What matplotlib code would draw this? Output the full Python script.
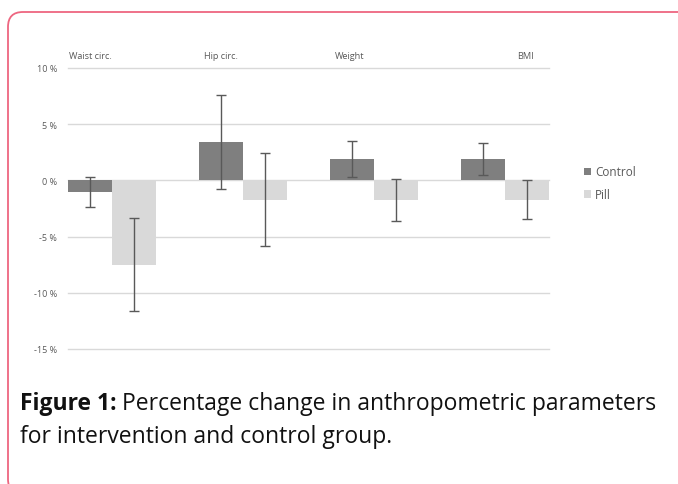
from matplotlib import pyplot as plt
from matplotlib.patches import FancyBboxPatch
import numpy as np

categories = ['Waist circ.', 'Hip circ.', 'Weight', 'BMI']
control = [-1.0, 3.4, 1.9, 1.9]
control_err = [1.33, 4.2, 1.6, 1.45]
pill = [-7.5, -1.7, -1.75, -1.7]
pill_err = [4.15, 4.1, 1.9, 1.75]
yticks = [10, 5, 0, -5, -10, -15]
ytick_labels = ['10 %', '5 %', '0 %', '-5 %', '-10 %', '-15 %']

W, H = 678, 485
fig = plt.figure(figsize=(W / 100, H / 100), dpi=100)
fig.patch.set_facecolor('white')

# pink rounded frame (only the top/left part is visible)
frame = FancyBboxPatch((8 / W, -10 / H), 690 / W, (H - 13 + 10) / H,
                       boxstyle='round,pad=0,rounding_size=0.022',
                       transform=fig.transFigure, fill=False,
                       edgecolor='#ee6680', linewidth=1.3,
                       mutation_aspect=W / H)
fig.patches.append(frame)

ax = fig.add_axes([68 / W, 1 - 350 / H, (549 - 68) / W, (350 - 69) / H])
bw = 0.336
x = np.arange(len(categories))

ax.bar(x - bw / 2, control, bw, color='#7f7f7f', label='Control', zorder=2)
ax.bar(x + bw / 2, pill, bw, color='#d9d9d9', label='Pill', zorder=2)
ax.errorbar(x - bw / 2, control, yerr=control_err, fmt='none',
            ecolor='#595959', elinewidth=1, capsize=3.5, capthick=1, zorder=3)
ax.errorbar(x + bw / 2, pill, yerr=pill_err, fmt='none',
            ecolor='#595959', elinewidth=1, capsize=3.5, capthick=1, zorder=3)

ax.set_xlim(-bw, len(categories) - 1 + bw)
ax.set_ylim(-15, 10)
ax.set_yticks(yticks)
ax.set_yticklabels(ytick_labels, fontsize=6.5, color='#595959',
                   family='Open Sans')
ax.set_xticks([])
ax.tick_params(axis='y', length=0, pad=8)
ax.grid(axis='y', color='#d9d9d9', linewidth=1, zorder=0)
for g in ax.get_ygridlines():
    g.set_clip_on(False)
for s in ax.spines.values():
    s.set_visible(False)

# category names sit above the plot
label_shift = [-bw / 2, -bw / 2, -bw / 2 - 0.02, bw / 2 - 0.01]
for i, name in enumerate(categories):
    ax.text(i + label_shift[i], 11.1, name, ha='center', va='center',
            fontsize=6.6, color='#595959', family='Open Sans')

leg = ax.legend(loc='center left', bbox_to_anchor=(1.05, 0.59), frameon=False,
                handlelength=0.6, handleheight=0.6, handletextpad=0.35,
                labelspacing=0.8, prop={'family': 'Open Sans', 'size': 8.5})
for t in leg.get_texts():
    t.set_color('#595959')

fs = 16.5
t1 = fig.text(20 / W, 1 - 404 / H, 'Figure 1:', fontsize=fs, va='center',
              family='Open Sans', weight='bold', color='#111111')
fig.canvas.draw()
bb = t1.get_window_extent()
fig.text((bb.x1 + 5) / W, 1 - 404 / H,
         'Percentage change in anthropometric parameters', fontsize=fs,
         va='center', family='Open Sans', color='#111111')
fig.text(20 / W, 1 - 437 / H, 'for intervention and control group.',
         fontsize=fs, va='center', family='Open Sans', color='#111111')

fig.savefig('out.png', dpi=100)
